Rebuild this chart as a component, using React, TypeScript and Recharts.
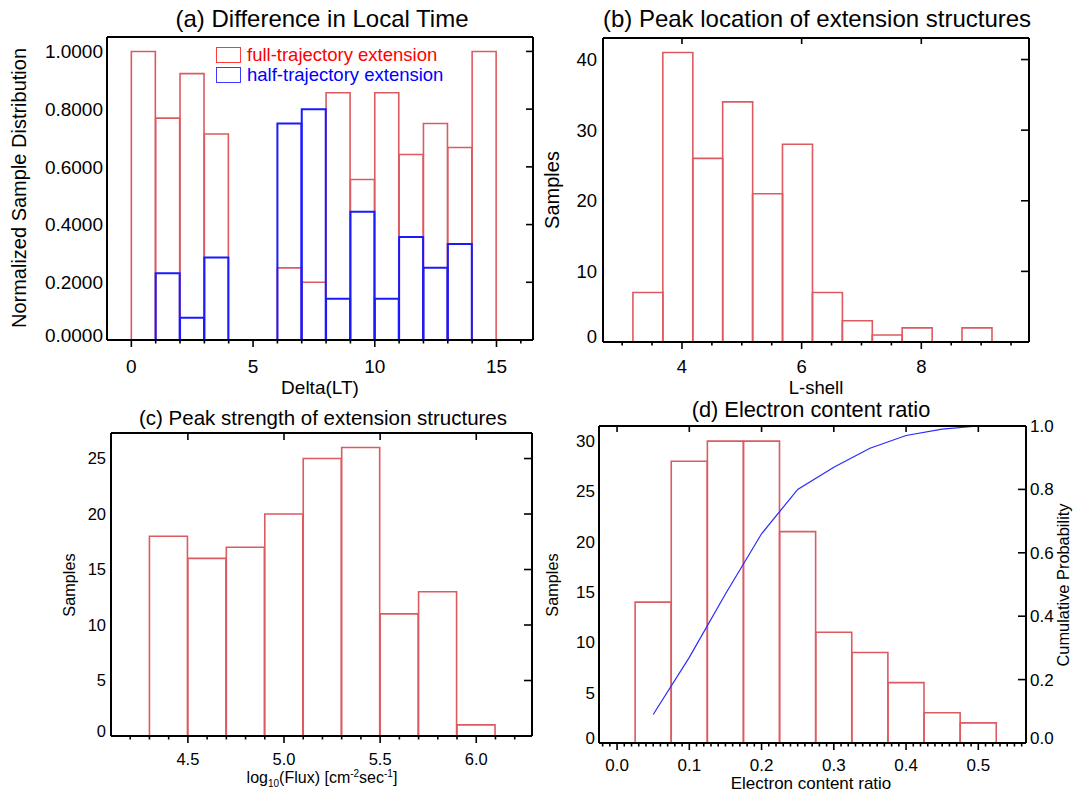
import React from 'react'
import { ComposedChart, Bar, Line, XAxis, YAxis, Legend } from 'recharts'

// Four-panel histogram figure. Each bin is drawn as an open outline,
// the way the IDL histogram plots in the paper look.

const FONT = '"Liberation Sans", Arial, Helvetica, sans-serif'
const INK = '#000'
const BAR_RED = '#dc5b60'
const BAR_BLUE = '#1a1aff'
const CUM_BLUE = '#2a2aff'
const AXIS = { stroke: INK, strokeWidth: 2 }

// (a) Difference in local time, 1 h bins (centres)
const ltCenters = [0.5, 1.5, 2.5, 3.5, 4.5, 5.5, 6.5, 7.5, 8.5, 9.5, 10.5, 11.5, 12.5, 13.5, 14.5, 15.5]
const ltFull = [1.0, 0.769, 0.923, 0.714, 0, 0, 0.25, 0.2, 0.857, 0.556, 0.857, 0.643, 0.75, 0.667, 1.0, null]
const ltHalf = [0, 0.231, 0.077, 0.286, 0, 0, 0.75, 0.8, 0.143, 0.444, 0.143, 0.357, 0.25, 0.333, 0, 0]
const ltMinor = [0, 1, 2, 3, 4, 5, 6, 7, 8, 9, 10, 11, 12, 13, 14, 15, 16]
const ltMajor = [0, 5, 10, 15]
const ltYTicks = [0, 0.2, 0.4, 0.6, 0.8, 1.0]
const ltSeries = [
  { key: 'full', label: 'full-trajectory extension', color: '#ff0000', box: '#ff3b3b' },
  { key: 'half', label: 'half-trajectory extension', color: '#0000ff', box: '#3b3bff' },
]

// (b) Peak L-shell, 0.5 bins
const lCenters = [3.43, 3.93, 4.43, 4.93, 5.43, 5.93, 6.43, 6.93, 7.43, 7.93, 8.43, 8.93]
const lCounts = [7, 41, 26, 34, 21, 28, 7, 3, 1, 2, 0, 2]
const lMinor = [3, 3.5, 4, 4.5, 5, 5.5, 6, 6.5, 7, 7.5, 8, 8.5, 9, 9.5]
const lMajor = [4, 6, 8]
const lYTicks = [0, 10, 20, 30, 40]

// (c) Peak strength, log10 flux, 0.2 bins
const fluxCenters = [4.4, 4.6, 4.8, 5.0, 5.2, 5.4, 5.6, 5.8, 6.0]
const fluxCounts = [18, 16, 17, 20, 25, 26, 11, 13, 1]
const fluxMajor = [4.5, 5.0, 5.5, 6.0]
const fluxYTicks = [0, 5, 10, 15, 20, 25]

// (d) Electron content ratio, 0.05 bins + cumulative probability
const ratioCenters = [0.05, 0.1, 0.15, 0.2, 0.25, 0.3, 0.35, 0.4, 0.45, 0.5]
const ratioCounts = [14, 28, 30, 30, 21, 11, 9, 6, 3, 2]
const ratioCum = [0.09, 0.27, 0.47, 0.66, 0.8, 0.87, 0.93, 0.97, 0.99, 1.0]
const ratioMajor = [0, 0.1, 0.2, 0.3, 0.4, 0.5]
const ratioYTicks = [0, 5, 10, 15, 20, 25, 30]
const cumTicks = [0, 0.2, 0.4, 0.6, 0.8, 1.0]

const near = (a: number, b: number) => Math.abs(a - b) < 1e-6

// evenly spaced minor tick positions (axis decoration, not data)
function steps(from: number, to: number, step: number) {
  const out: number[] = []
  const n = Math.round((to - from) / step)
  for (let i = 0; i <= n; i++) out.push(+(from + i * step).toFixed(4))
  return out
}

function outlineBar(color: string, lw: number) {
  return (p: any) => {
    const { x, y, width: w, height: h } = p
    if (![x, y, w, h].every((n) => Number.isFinite(n))) return <g />
    return (
      <path
        d={`M${x},${y + h}V${y}H${x + w}V${y + h}Z`}
        fill="none"
        stroke={color}
        strokeWidth={lw}
      />
    )
  }
}

function bottomTicks(major: number[], size: number, gap: number, fmt: (v: number) => string) {
  return (p: any) => {
    const v = p.payload.value
    const isMajor = major.some((m) => near(m, v))
    return (
      <g>
        <line x1={p.x} x2={p.x} y1={p.y} y2={p.y + (isMajor ? 7 : 3.5)} stroke={INK} strokeWidth={1.6} />
        {isMajor && (
          <text x={p.x} y={p.y + gap} dy="0.35em" textAnchor="middle" fontSize={size} fontFamily={FONT} fill={INK}>
            {fmt(v)}
          </text>
        )}
      </g>
    )
  }
}

// top axis sits 1px above the frame (height 1), so ticks start one px lower
function topTicks(len: number) {
  return (p: any) => (
    <line x1={p.x} x2={p.x} y1={p.y + 1} y2={p.y + 1 + len} stroke={INK} strokeWidth={1.6} />
  )
}

function leftLabels(size: number, gap: number, fmt: (v: number) => string) {
  return (p: any) => {
    const v = p.payload.value
    return (
      <text x={p.x - gap} y={p.y + (v === 0 ? -5 : 0)} dy="0.35em" textAnchor="end" fontSize={size} fontFamily={FONT} fill={INK}>
        {fmt(v)}
      </text>
    )
  }
}

function rightTicks(len: number, label?: { size: number; gap: number; fmt: (v: number) => string }) {
  return (p: any) => {
    const v = p.payload.value
    return (
      <g>
        <line x1={p.x} x2={p.x - len} y1={p.y} y2={p.y} stroke={INK} strokeWidth={1.6} />
        {label && (
          <text x={p.x + label.gap} y={p.y + (v === 0 ? -5 : 0)} dy="0.35em" textAnchor="start" fontSize={label.size} fontFamily={FONT} fill={INK}>
            {label.fmt(v)}
          </text>
        )}
      </g>
    )
  }
}

function Caption({ x, y, size, rotate = 0, children }: { x: number; y: number; size: number; rotate?: number; children: React.ReactNode }) {
  return (
    <div
      style={{
        position: 'absolute',
        left: x,
        top: y,
        transform: `translate(-50%, -50%) rotate(${rotate}deg)`,
        fontFamily: FONT,
        fontSize: size,
        lineHeight: 1,
        whiteSpace: 'nowrap',
        color: INK,
      }}
    >
      {children}
    </div>
  )
}

function LTLegend() {
  return (
    <div style={{ fontFamily: FONT, fontSize: 18.5 }}>
      {ltSeries.map((s) => (
        <div key={s.key} style={{ display: 'flex', alignItems: 'center', height: 20 }}>
          <span
            style={{
              display: 'inline-block',
              width: 25,
              height: 16,
              border: `1.5px solid ${s.box}`,
              boxSizing: 'border-box',
              marginRight: 6,
            }}
          />
          <span style={{ color: s.color }}>{s.label}</span>
        </div>
      ))}
    </div>
  )
}

function PanelLT() {
  const data = ltCenters.map((x, i) => ({ x, full: ltFull[i], half: ltHalf[i] }))
  const dom: [number, number] = [-1, 16.5]
  return (
    <div style={{ position: 'absolute', left: 0, top: 0 }}>
      <ComposedChart width={560} height={400} data={data} margin={{ top: 36, right: 26, bottom: 0, left: 0 }} barCategoryGap={0} barGap={0}>
        <XAxis xAxisId="x" type="number" dataKey="x" domain={dom} allowDataOverflow ticks={ltMinor} interval={0}
          height={60} tickSize={0} tickMargin={0} tickLine={false} axisLine={AXIS}
          tick={bottomTicks(ltMajor, 19, 26, (v) => String(v))} />
        <XAxis xAxisId="xb" type="number" dataKey="x" domain={dom} allowDataOverflow hide />
        <XAxis xAxisId="top" orientation="top" type="number" dataKey="x" domain={dom} allowDataOverflow
          height={1} tick={false} tickLine={false} axisLine={AXIS} />
        <YAxis yAxisId="l" type="number" domain={[0, 1.05]} allowDataOverflow ticks={ltYTicks} interval={0}
          width={107} tickSize={0} tickMargin={0} tickLine={false} axisLine={AXIS}
          tick={leftLabels(19, 4, (v) => v.toFixed(4))} />
        <YAxis yAxisId="r" orientation="right" type="number" domain={[0, 1.05]} allowDataOverflow ticks={ltYTicks} interval={0}
          width={1} tickSize={0} tickMargin={0} tickLine={false} axisLine={AXIS} tick={rightTicks(7)} />
        <Bar xAxisId="x" yAxisId="l" dataKey="full" name={ltSeries[0].label} fill="none"
          shape={outlineBar(BAR_RED, 1.6)} isAnimationActive={false} />
        <Bar xAxisId="xb" yAxisId="l" dataKey="half" name={ltSeries[1].label} fill="none"
          shape={outlineBar(BAR_BLUE, 2)} isAnimationActive={false} />
        <Legend content={() => <LTLegend />} layout="horizontal" verticalAlign="middle" align="center"
          wrapperStyle={{ left: 216, top: 44.5, width: 280 }} />
      </ComposedChart>
    </div>
  )
}

function PanelL() {
  const data = lCenters.map((x, i) => ({ x, n: lCounts[i] }))
  const dom: [number, number] = [2.68, 9.8]
  return (
    <div style={{ position: 'absolute', left: 540, top: 0 }}>
      <ComposedChart width={536} height={400} data={data} margin={{ top: 37, right: 46, bottom: 0, left: 0 }} barCategoryGap={0} barGap={0}>
        <XAxis xAxisId="x" type="number" dataKey="x" domain={dom} allowDataOverflow ticks={lMinor} interval={0}
          height={58} tickSize={0} tickMargin={0} tickLine={false} axisLine={AXIS}
          tick={bottomTicks(lMajor, 18.5, 25, (v) => String(v))} />
        <XAxis xAxisId="top" orientation="top" type="number" dataKey="x" domain={dom} allowDataOverflow ticks={lMajor} interval={0}
          height={1} tickSize={0} tickMargin={0} tickLine={false} axisLine={AXIS} tick={topTicks(5)} />
        <YAxis yAxisId="l" type="number" domain={[0, 43.05]} allowDataOverflow ticks={lYTicks} interval={0}
          width={63} tickSize={0} tickMargin={0} tickLine={false} axisLine={AXIS}
          tick={leftLabels(18.5, 6, (v) => String(v))} />
        <YAxis yAxisId="r" orientation="right" type="number" domain={[0, 43.05]} allowDataOverflow ticks={lYTicks} interval={0}
          width={1} tickSize={0} tickMargin={0} tickLine={false} axisLine={AXIS} tick={rightTicks(8)} />
        <Bar xAxisId="x" yAxisId="l" dataKey="n" fill="none" shape={outlineBar(BAR_RED, 1.6)} isAnimationActive={false} />
      </ComposedChart>
    </div>
  )
}

function PanelFlux() {
  const data = fluxCenters.map((x, i) => ({ x, n: fluxCounts[i] }))
  const dom: [number, number] = [4.1, 6.29]
  return (
    <div style={{ position: 'absolute', left: 0, top: 400 }}>
      <ComposedChart width={540} height={392} data={data} margin={{ top: 32, right: 7, bottom: 0, left: 0 }} barCategoryGap={0} barGap={0}>
        <XAxis xAxisId="x" type="number" dataKey="x" domain={dom} allowDataOverflow ticks={steps(4.2, 6.2, 0.1)} interval={0}
          height={56} tickSize={0} tickMargin={0} tickLine={false} axisLine={AXIS}
          tick={bottomTicks(fluxMajor, 16.5, 23, (v) => v.toFixed(1))} />
        <XAxis xAxisId="top" orientation="top" type="number" dataKey="x" domain={dom} allowDataOverflow ticks={fluxMajor} interval={0}
          height={1} tickSize={0} tickMargin={0} tickLine={false} axisLine={AXIS} tick={topTicks(6)} />
        <YAxis yAxisId="l" type="number" domain={[0, 27.3]} allowDataOverflow ticks={fluxYTicks} interval={0}
          width={111} tickSize={0} tickMargin={0} tickLine={false} axisLine={AXIS}
          tick={leftLabels(16.5, 5, (v) => String(v))} />
        <YAxis yAxisId="r" orientation="right" type="number" domain={[0, 27.3]} allowDataOverflow ticks={fluxYTicks} interval={0}
          width={1} tickSize={0} tickMargin={0} tickLine={false} axisLine={AXIS} tick={rightTicks(8)} />
        <Bar xAxisId="x" yAxisId="l" dataKey="n" fill="none" shape={outlineBar(BAR_RED, 1.6)} isAnimationActive={false} />
      </ComposedChart>
    </div>
  )
}

function PanelRatio() {
  const data = ratioCenters.map((x, i) => ({ x, n: ratioCounts[i], cum: ratioCum[i] }))
  const dom: [number, number] = [-0.025, 0.566]
  return (
    <div style={{ position: 'absolute', left: 540, top: 400 }}>
      <ComposedChart width={536} height={392} data={data} margin={{ top: 25, right: 0, bottom: 0, left: 0 }} barCategoryGap={0} barGap={0}>
        <XAxis xAxisId="x" type="number" dataKey="x" domain={dom} allowDataOverflow ticks={steps(-0.02, 0.56, 0.01)} interval={0}
          height={49} tickSize={0} tickMargin={0} tickLine={false} axisLine={AXIS}
          tick={bottomTicks(ratioMajor, 17, 22, (v) => v.toFixed(1))} />
        <XAxis xAxisId="top" orientation="top" type="number" dataKey="x" domain={dom} allowDataOverflow ticks={ratioMajor} interval={0}
          height={1} tickSize={0} tickMargin={0} tickLine={false} axisLine={AXIS} tick={topTicks(5)} />
        <YAxis yAxisId="l" type="number" domain={[0, 31.5]} allowDataOverflow ticks={ratioYTicks} interval={0}
          width={59} tickSize={0} tickMargin={0} tickLine={false} axisLine={AXIS}
          tick={leftLabels(17, 4, (v) => String(v))} />
        <YAxis yAxisId="r" orientation="right" type="number" domain={[0, 1]} allowDataOverflow ticks={cumTicks} interval={0}
          width={50} tickSize={0} tickMargin={0} tickLine={false} axisLine={AXIS}
          tick={rightTicks(8, { size: 17, gap: 4, fmt: (v) => v.toFixed(1) })} />
        <Bar xAxisId="x" yAxisId="l" dataKey="n" fill="none" shape={outlineBar(BAR_RED, 1.6)} isAnimationActive={false} />
        <Line xAxisId="x" yAxisId="r" dataKey="cum" type="linear" stroke={CUM_BLUE} strokeWidth={1.2} dot={false} isAnimationActive={false} />
      </ComposedChart>
    </div>
  )
}

export default function App() {
  return (
    <div style={{ position: 'absolute', left: 0, top: 0, width: 1076, height: 792, background: '#fff', overflow: 'hidden' }}>
      <PanelLT />
      <PanelL />
      <PanelFlux />
      <PanelRatio />

      <Caption x={322} y={18.5} size={24}>(a) Difference in Local Time</Caption>
      <Caption x={19} y={188} size={20} rotate={-90}>Normalized Sample Distribution</Caption>
      <Caption x={320} y={387} size={19}>Delta(LT)</Caption>

      <Caption x={817} y={18.5} size={24}>(b) Peak location of extension structures</Caption>
      <Caption x={552} y={190} size={20} rotate={-90}>Samples</Caption>
      <Caption x={816} y={388} size={18.5}>L-shell</Caption>

      <Caption x={323} y={418} size={20.5}>(c) Peak strength of extension structures</Caption>
      <Caption x={69} y={585} size={16.3} rotate={-90}>Samples</Caption>
      <Caption x={322} y={778} size={16}>
        log<span style={{ fontSize: 10, position: 'relative', top: 4 }}>10</span>(Flux) [cm
        <span style={{ fontSize: 10, position: 'relative', top: -6 }}>-2</span>sec
        <span style={{ fontSize: 10, position: 'relative', top: -6 }}>-1</span>]
      </Caption>

      <Caption x={811} y={410} size={21.8}>(d) Electron content ratio</Caption>
      <Caption x={552} y={585} size={16.3} rotate={-90}>Samples</Caption>
      <Caption x={811} y={782.5} size={17}>Electron content ratio</Caption>
      <Caption x={1063} y={585} size={16.4} rotate={-90}>Cumulative Probability</Caption>
    </div>
  )
}
